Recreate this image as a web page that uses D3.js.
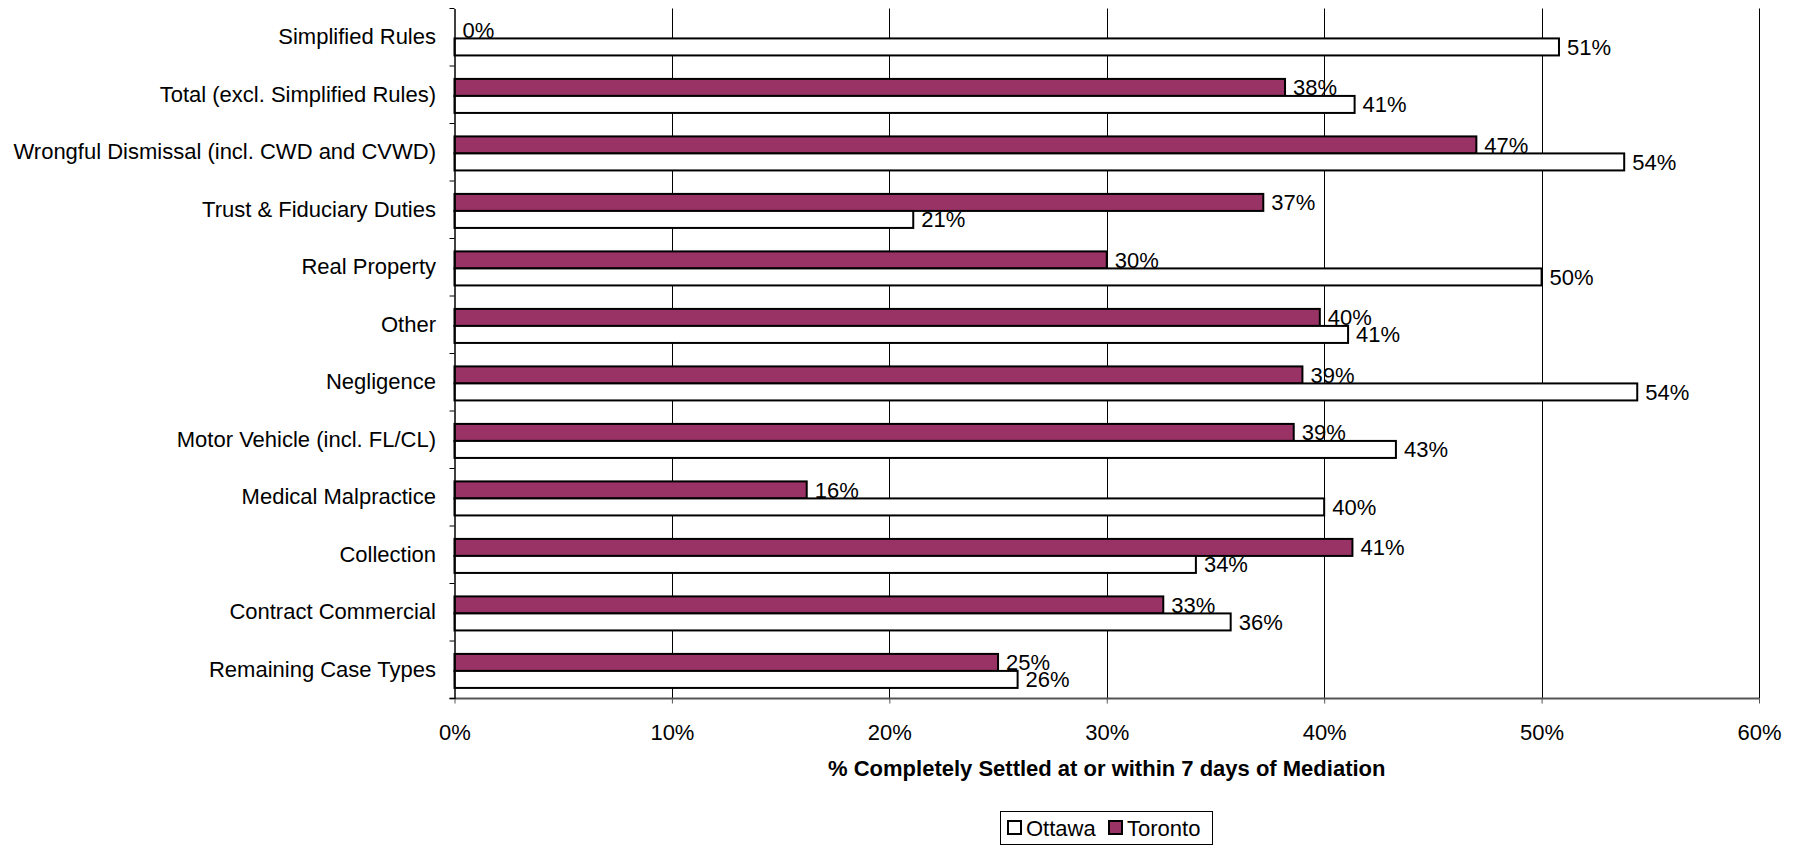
<!DOCTYPE html>
<html>
<head>
<meta charset="utf-8">
<script src="https://cdn.jsdelivr.net/npm/d3@7"></script>
<style>
  body { margin: 0; background: #fff; }
  svg { display: block; font-family: "Liberation Sans", Arial, sans-serif; }
</style>
</head>
<body>
<div id="viz"></div>
<script>
// categories, top to bottom as drawn
let categories = [
  'Simplified Rules',
  'Total (excl. Simplified Rules)',
  'Wrongful Dismissal (incl. CWD and CVWD)',
  'Trust & Fiduciary Duties',
  'Real Property',
  'Other',
  'Negligence',
  'Motor Vehicle (incl. FL/CL)',
  'Medical Malpractice',
  'Collection',
  'Contract Commercial',
  'Remaining Case Types'
];
let ottawa  = [0.508, 0.414, 0.538, 0.211, 0.500, 0.411, 0.544, 0.433, 0.400, 0.341, 0.357, 0.259];
let toronto = [0.000, 0.382, 0.470, 0.372, 0.300, 0.398, 0.390, 0.386, 0.162, 0.413, 0.326, 0.250];
let seriesNames = ['Toronto', 'Ottawa'];
let legendNames = ['Ottawa', 'Toronto'];
let xTicks = [0, 0.1, 0.2, 0.3, 0.4, 0.5, 0.6];
let xTitle = '% Completely Settled at or within 7 days of Mediation';

let W = 1803, H = 846,
    plot = { left: 454.5, right: 1759, top: 8.5, bottom: 698.5 },
    fontSize = 22;

let colors = { Ottawa: '#ffffff', Toronto: '#993366' };
let pct = d3.format('.0%');

let svg = d3.select('#viz').append('svg')
  .attr('width', W)
  .attr('height', H);

let xScale = d3.scaleLinear()
  .domain([0, 0.6])
  .range([plot.left, plot.right]);

let yScale = d3.scaleBand()
  .domain(categories)
  .range([plot.top, plot.bottom]);

let inner = d3.scaleBand()
  .domain(seriesNames)
  .range([0, yScale.bandwidth()])
  .paddingInner(0)
  .paddingOuter(0.69)
  .align(0.55);

// vertical gridlines
svg.append('g')
  .selectAll('line').data(xTicks.slice(1))
  .enter().append('line')
  .attr('x1', d => Math.round(xScale(d)) + 0.5)
  .attr('x2', d => Math.round(xScale(d)) + 0.5)
  .attr('y1', plot.top)
  .attr('y2', plot.bottom)
  .attr('stroke', '#000')
  .attr('stroke-width', 1);

// rows: Toronto above Ottawa
let rows = [];
categories.forEach((c, i) => {
  rows.push({ cat: c, s: 'Toronto', v: toronto[i] });
  rows.push({ cat: c, s: 'Ottawa', v: ottawa[i] });
});

svg.append('g')
  .selectAll('rect').data(rows)
  .enter().append('rect')
  .attr('x', xScale(0))
  .attr('y', d => yScale(d.cat) + inner(d.s))
  .attr('width', d => xScale(d.v) - xScale(0))
  .attr('height', inner.bandwidth())
  .attr('fill', d => colors[d.s])
  .attr('stroke', '#000')
  .attr('stroke-width', 2);

// value labels
svg.append('g')
  .selectAll('text').data(rows)
  .enter().append('text')
  .attr('x', d => xScale(d.v) + 8)
  .attr('y', d => yScale(d.cat) + inner(d.s) + inner.bandwidth() / 2)
  .attr('dy', '0.36em')
  .attr('font-size', fontSize)
  .attr('fill', '#000')
  .text(d => pct(d.v));

// x axis
let xAxis = d3.axisBottom(xScale)
  .tickValues(xTicks)
  .tickFormat(pct)
  .tickSize(5)
  .tickPadding(21);

let xGuide = svg.append('g')
  .attr('transform', 'translate(0,' + plot.bottom + ')')
  .call(xAxis);
xGuide.select('.domain').attr('d', 'M' + (plot.left - 5) + ',0H' + plot.right).attr('stroke', '#555').attr('stroke-width', 2);
xGuide.selectAll('.tick line').attr('stroke', '#555');
xGuide.selectAll('.tick text')
  .attr('font-size', fontSize)
  .attr('font-family', '"Liberation Sans", Arial, sans-serif')
  .attr('fill', '#000');

// y axis: labels at band centres, ticks at band edges
let yAxis = d3.axisLeft(yScale)
  .tickSize(0)
  .tickPadding(18.5);

let yGuide = svg.append('g')
  .attr('transform', 'translate(' + plot.left + ',0)')
  .call(yAxis);
yGuide.select('.domain').attr('stroke', '#000').attr('stroke-width', 1.5);
yGuide.selectAll('.tick text')
  .attr('font-size', fontSize)
  .attr('font-family', '"Liberation Sans", Arial, sans-serif')
  .attr('fill', '#000');

let edges = categories.map(c => yScale(c)).concat([plot.bottom]);
yGuide.append('g')
  .selectAll('line').data(edges)
  .enter().append('line')
  .attr('x1', -5)
  .attr('x2', 0)
  .attr('y1', d => d)
  .attr('y2', d => d)
  .attr('stroke', '#000');

// axis title
svg.append('text')
  .attr('x', (plot.left + plot.right) / 2)
  .attr('y', 776)
  .attr('text-anchor', 'middle')
  .attr('font-size', fontSize)
  .attr('font-weight', 'bold')
  .text(xTitle);

// legend
let legend = svg.append('g');
legend.append('rect')
  .attr('x', 1000.5)
  .attr('y', 811.5)
  .attr('width', 212)
  .attr('height', 33)
  .attr('fill', '#fff')
  .attr('stroke', '#000')
  .attr('stroke-width', 1);

let legX = [1008, 1109];
legendNames.forEach((n, i) => {
  legend.append('rect')
    .attr('x', legX[i])
    .attr('y', 821)
    .attr('width', 13)
    .attr('height', 13)
    .attr('fill', colors[n])
    .attr('stroke', '#000')
    .attr('stroke-width', 2);
  legend.append('text')
    .attr('x', legX[i] + 18)
    .attr('y', 836)
    .attr('font-size', fontSize)
    .text(n);
});
</script>
</body>
</html>
